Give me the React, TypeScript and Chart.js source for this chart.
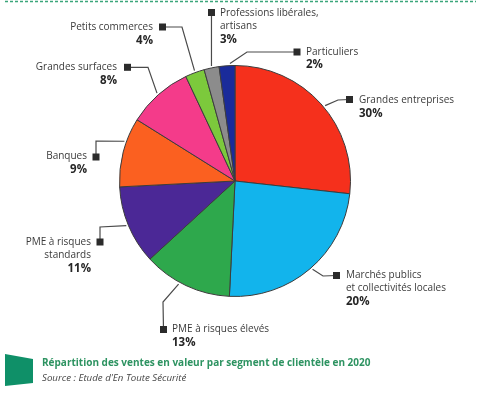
import { useEffect, useRef } from 'react';
import { Chart, registerables } from 'chart.js';

Chart.register(...registerables);

// ---- Data (clockwise from 12 o'clock) ----
const segmentLabels: string[][] = [
  ['Grandes entreprises'],
  ['Marchés publics', 'et collectivités locales'],
  ['PME à risques élevés'],
  ['PME à risques', 'standards'],
  ['Banques'],
  ['Grandes surfaces'],
  ['Petits commerces'],
  ['Professions libérales,', 'artisans'],
  ['Particuliers'],
];
const shareLabels = ['30%', '20%', '13%', '11%', '9%', '8%', '4%', '3%', '2%'];
// slice sizes as drawn in the picture
const sliceShares = [26.75, 24, 12.4, 11, 9.7, 9.1, 2.7, 2.1, 2.2];
const sliceColors = [
  '#f5301c', '#12b4ec', '#2ea84c', '#4b2896', '#fb6020',
  '#f43b8a', '#7cc93c', '#8c8c8c', '#1a2b9a',
];

const titleText = 'Répartition des ventes en valeur par segment de clientèle en 2020';
const sourceText = "Source : Etude d'En Toute Sécurité";

// ---- Label layout (positions/styles only) ----
type LabelLayout = {
  t: number; // position of the leader anchor within the slice (0..1)
  elbow: [number, number] | null;
  sq: [number, number];
  align: CanvasTextAlign;
  tx: number;
  ty: number;
};
const labelLayout: LabelLayout[] = [
  { t: 0.52, elbow: [338, 100], sq: [349.5, 99.5], align: 'left', tx: 359, ty: 100.5 },
  { t: 0.49, elbow: [323, 276], sq: [336.5, 275.5], align: 'left', tx: 346, ty: 275.5 },
  { t: 0.58, elbow: [163, 302], sq: [163.5, 329.5], align: 'left', tx: 172, ty: 329 },
  { t: 0.51, elbow: [100, 227], sq: [100, 242], align: 'right', tx: 91, ty: 242 },
  { t: 0.65, elbow: [96, 141], sq: [96, 157], align: 'right', tx: 87, ty: 156.5 },
  { t: 0.5, elbow: [148, 67.3], sq: [127.5, 67.3], align: 'right', tx: 117, ty: 67 },
  { t: 0.52, elbow: [182, 27], sq: [162.5, 27], align: 'right', tx: 153, ty: 27 },
  { t: 0.52, elbow: null, sq: [211.5, 12.5], align: 'left', tx: 220, ty: 13 },
  { t: 0.69, elbow: [247, 52], sq: [297, 52], align: 'left', tx: 306, ty: 51.7 },
];

const FONT = '"Open Sans", "Noto Sans", sans-serif';

const leaderPlugin = {
  id: 'leaderLabels',
  afterDraw(chart: any) {
    const ctx: CanvasRenderingContext2D = chart.ctx;
    const meta = chart.getDatasetMeta(0);
    meta.data.forEach((arc: any, i: number) => {
      const L = labelLayout[i];
      const p = arc.getProps(['x', 'y', 'startAngle', 'endAngle', 'outerRadius'], true);
      const a = p.startAngle + (p.endAngle - p.startAngle) * L.t;
      const ax = p.x + Math.cos(a) * (p.outerRadius + 2);
      const ay = p.y + Math.sin(a) * (p.outerRadius + 2);
      ctx.save();
      ctx.strokeStyle = '#4a4a4a';
      ctx.lineWidth = 1.2;
      ctx.beginPath();
      ctx.moveTo(ax, ay);
      if (L.elbow) ctx.lineTo(L.elbow[0], L.elbow[1]);
      ctx.lineTo(L.sq[0], L.sq[1]);
      ctx.stroke();
      ctx.fillStyle = '#2b2b2b';
      ctx.fillRect(L.sq[0] - 3.5, L.sq[1] - 3.5, 7, 7);
      ctx.textAlign = L.align;
      ctx.textBaseline = 'middle';
      ctx.font = `10px ${FONT}`;
      ctx.fillStyle = '#3b3b3b';
      const lines = segmentLabels[i];
      lines.forEach((ln, k) => ctx.fillText(ln, L.tx, L.ty + k * 12.7));
      ctx.font = `bold 11.5px ${FONT}`;
      ctx.fillStyle = '#262626';
      ctx.fillText(shareLabels[i], L.tx, L.ty + lines.length * 12.9 + 0.5);
      ctx.restore();
    });
    // dashed top rule
    ctx.save();
    ctx.strokeStyle = '#3aa57a';
    ctx.lineWidth = 1.5;
    ctx.setLineDash([3, 2]);
    ctx.beginPath();
    ctx.moveTo(5, 1.5);
    ctx.lineTo(476, 1.5);
    ctx.stroke();
    ctx.restore();
  },
};

export default function App() {
  const ref = useRef<HTMLCanvasElement>(null);
  useEffect(() => {
    document.body.style.margin = '0';
    const canvas = ref.current!;
    const chart = new Chart(canvas, {
      type: 'pie',
      data: {
        labels: segmentLabels.map((l) => l.join(' ')),
        datasets: [
          {
            data: sliceShares,
            backgroundColor: sliceColors,
            borderColor: '#3c3c3c',
            borderWidth: 1,
          },
        ],
      },
      options: {
        responsive: false,
        animation: false,
        layout: { padding: { left: 119, right: 150, top: 65, bottom: 98 } },
        plugins: { legend: { display: false }, tooltip: { enabled: false } },
      },
      plugins: [leaderPlugin],
    } as any);
    return () => chart.destroy();
  }, []);

  return (
    <div style={{ position: 'relative', width: 501, height: 395, background: '#fff', overflow: 'hidden' }}>
      <canvas ref={ref} width={501} height={395} style={{ display: 'block', width: 501, height: 395 }} />
      <div
        style={{
          position: 'absolute',
          left: 5,
          top: 354,
          width: 28,
          height: 32,
          background: '#0f9068',
          clipPath: 'polygon(0 0, 100% 16%, 100% 91%, 0 100%)',
        }}
      />
      <div
        style={{
          position: 'absolute',
          left: 42,
          top: 355,
          fontFamily: FONT,
          fontWeight: 700,
          fontSize: 10,
          color: '#2d9361',
          whiteSpace: 'nowrap',
          lineHeight: '14px',
        }}
      >
        {titleText}
      </div>
      <div
        style={{
          position: 'absolute',
          left: 42,
          top: 371,
          fontFamily: FONT,
          fontStyle: 'italic',
          fontSize: 9.7,
          color: '#444',
          whiteSpace: 'nowrap',
          lineHeight: '14px',
        }}
      >
        {sourceText}
      </div>
    </div>
  );
}
